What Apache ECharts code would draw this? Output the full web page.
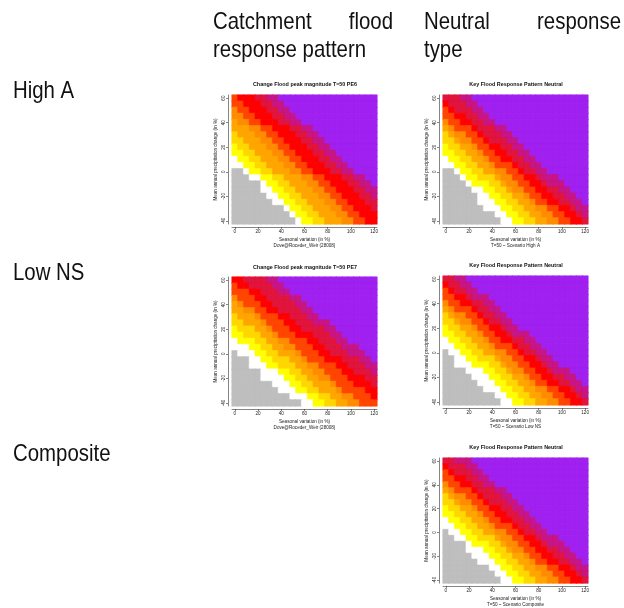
<!DOCTYPE html>
<html>
<head>
<meta charset="utf-8">
<script src="https://cdn.jsdelivr.net/npm/echarts@6/dist/echarts.min.js"></script>
<style>
  html, body { margin: 0; padding: 0; background: #fff; }
  #chart { width: 624px; height: 608px; }
</style>
</head>
<body>
<div id="chart"></div>
<script>
// Seasonal variation (x) and mean annual precipitation change (y), in %
const seasonalVariation = [0, 5, 10, 15, 20, 25, 30, 35, 40, 45, 50, 55, 60, 65, 70, 75, 80, 85, 90, 95, 100, 105, 110, 115, 120];
const precipitationChange = [-40, -35, -30, -25, -20, -15, -10, -5, 0, 5, 10, 15, 20, 25, 30, 35, 40, 45, 50, 55, 60];

// Response classes, lowest to highest (one hex digit per class in the grids below)
const classColors = ['#BEBEBE', '#FFFFFF', '#FFFF00', '#FFD700', '#FFA500', '#FF8C00',
                     '#FF4500', '#FF0000', '#E0143C', '#C71585', '#A020F0'];

// Class grids: one string per precipitation row, from +60 % (top) down to -40 % (bottom);
// one character per seasonal-variation column, 0 % to 120 %.
const pe6HighA = [
  '67778899AAAAAAAAAAAAAAAAA',
  '667778899AAAAAAAAAAAAAAAA',
  '5667778899AAAAAAAAAAAAAAA',
  '55667778899AAAAAAAAAAAAAA',
  '455667778899AAAAAAAAAAAAA',
  '44455667778899AAAAAAAAAAA',
  '344455667778899AAAAAAAAAA',
  '3344455667778899AAAAAAAAA',
  '23344455667778899AAAAAAAA',
  '223344455667778899AAAAAAA',
  '1223344455667778899AAAAAA',
  '11223344455667778899AAAAA',
  '001223344455667778899AAAA',
  '00011223344455667778899AA',
  '000001223344455667778899A',
  '0000011223344455667778899',
  '0000001122334445566777889',
  '0000000112233444556677788',
  '0000000001223344455667778',
  '0000000000122334445566777',
  '0000000000012233444556677'
];
const neutralHighA = [
  '88899AAAAAAAAAAAAAAAAAAAA',
  '788899AAAAAAAAAAAAAAAAAAA',
  '6788899AAAAAAAAAAAAAAAAAA',
  '66778899AAAAAAAAAAAAAAAAA',
  '566778899AAAAAAAAAAAAAAAA',
  '45666788899AAAAAAAAAAAAAA',
  '345566788899AAAAAAAAAAAAA',
  '3345566788899AAAAAAAAAAAA',
  '23344566778899AAAAAAAAAAA',
  '223344566778899AAAAAAAAAA',
  '1223344566778899AAAAAAAAA',
  '11223344566678899AAAAAAAA',
  '001223344556678899AAAAAAA',
  '00012233345566778999AAAAA',
  '000012223345566778999AAAA',
  '0000011223345566778899AAA',
  '00000011223344566778899AA',
  '000000111223344566778899A',
  '0000000111223344556677899',
  '0000000001122334455667789',
  '0000000000112233445566778'
];
const pe7LowNS = [
  '77888899AAAAAAAAAAAAAAAAA',
  '677888899AAAAAAAAAAAAAAAA',
  '6667788899AAAAAAAAAAAAAAA',
  '566677888899AAAAAAAAAAAAA',
  '4566677888899AAAAAAAAAAAA',
  '44556677888899AAAAAAAAAAA',
  '344456667788899AAAAAAAAAA',
  '33444566677888999AAAAAAAA',
  '233344566677888899AAAAAAA',
  '2233344566677788899AAAAAA',
  '12223344556667788899AAAAA',
  '1112233445566677888999AAA',
  '01112233444566677888999AA',
  '000112233344566677788899A',
  '0001112233344556667788899',
  '0000011122334455666778889',
  '0000011112233445566677788',
  '0000000111223344456667778',
  '0000000011122334445666677',
  '0000000000111223344556667',
  '0000000000001122334455666'
];
const neutralLowNS = [
  '8899AAAAAAAAAAAAAAAAAAAAA',
  '78899AAAAAAAAAAAAAAAAAAAA',
  '678899AAAAAAAAAAAAAAAAAAA',
  '66778999AAAAAAAAAAAAAAAAA',
  '566778899AAAAAAAAAAAAAAAA',
  '4566678899AAAAAAAAAAAAAAA',
  '34556678899AAAAAAAAAAAAAA',
  '334556678899AAAAAAAAAAAAA',
  '2334456677899AAAAAAAAAAAA',
  '223344566778999AAAAAAAAAA',
  '1223344566778899AAAAAAAAA',
  '11223344566678899AAAAAAAA',
  '011223344556678899AAAAAAA',
  '0011223334556677899AAAAAA',
  '00111222334556677899AAAAA',
  '0000111223345566778999AAA',
  '00000111223344566778899AA',
  '000000111223344566778899A',
  '0000000111223344556677899',
  '0000000001122334455667789',
  '0000000000112233445566778'
];
const neutralComposite = [
  '88999AAAAAAAAAAAAAAAAAAAA',
  '788899AAAAAAAAAAAAAAAAAAA',
  '6788899AAAAAAAAAAAAAAAAAA',
  '66778899AAAAAAAAAAAAAAAAA',
  '566778899AAAAAAAAAAAAAAAA',
  '45666788899AAAAAAAAAAAAAA',
  '345566788899AAAAAAAAAAAAA',
  '3345566788899AAAAAAAAAAAA',
  '23344566778899AAAAAAAAAAA',
  '223344566778899AAAAAAAAAA',
  '1223344566778899AAAAAAAAA',
  '11223344566678899AAAAAAAA',
  '011223344556678899AAAAAAA',
  '00112233345566778999AAAAA',
  '000012223345566778999AAAA',
  '0000111223345566778899AAA',
  '00000111223344566778899AA',
  '000000111223344566778899A',
  '0000000011223344556677899',
  '0000000001122334455667789',
  '0000000000112233445566778'
];

const panelTitles = ['Change Flood peak magnitude T=50 PE6', 'Key Flood Response Pattern Neutral',
                     'Change Flood peak magnitude T=50 PE7', 'Key Flood Response Pattern Neutral',
                     'Key Flood Response Pattern Neutral'];
const panelSubtitles = ['Dove@Roceder_Weir (28008)', 'T=50 ~ Scenario High A',
                        'Dove@Roceder_Weir (28008)', 'T=50 ~ Scenario Low NS',
                        'T=50 ~ Scenario Composite'];
const panelGrids = [pe6HighA, neutralHighA, pe7LowNS, neutralLowNS, neutralComposite];
const rowLabels = ['High A', 'Low NS', 'Composite'];
const xAxisTitle = 'Seasonal variation (in %)';
const yAxisTitle = 'Mean annual precipitation change (in %)';

// Plot boxes for the five panels (left, top, width, height)
const boxes = [
  [232, 95, 145, 129],
  [443, 95, 145, 129],
  [232, 277, 145, 129],
  [443, 276, 145, 129],
  [443, 458, 145, 129]
];

// Each cell gets a thin border in its own colour so neighbouring cells close up without seams
function toCells(rows) {
  const cells = [];
  rows.forEach((row, r) => {
    if (row.length !== seasonalVariation.length) throw new Error('bad row ' + r + ': ' + row);
    for (let c = 0; c < row.length; c++) {
      const v = parseInt(row[c], 16);
      cells.push({
        value: [c, precipitationChange.length - 1 - r, v],
        itemStyle: { borderColor: classColors[v], borderWidth: 0.5 }
      });
    }
  });
  return cells;
}

const smallFont = '"Liberation Sans", Arial, sans-serif';

const grid = [], xAxis = [], yAxis = [], series = [];
boxes.forEach((b, i) => {
  grid.push({ left: b[0], top: b[1], width: b[2], height: b[3] });
  xAxis.push({
    type: 'category', gridIndex: i, data: seasonalVariation, position: 'bottom', offset: 3,
    axisLine: { show: true, lineStyle: { color: '#333', width: 0.6 } },
    axisTick: { show: true, interval: 3, alignWithLabel: true, length: 2, lineStyle: { color: '#333', width: 0.6 } },
    axisLabel: { interval: 3, fontSize: 4.6, margin: 2.5, color: '#222', fontFamily: smallFont },
    splitLine: { show: false },
    name: xAxisTitle + '\n' + panelSubtitles[i], nameLocation: 'middle', nameGap: 10.5,
    nameTextStyle: { fontSize: 4.6, lineHeight: 5.2, color: '#222', fontFamily: smallFont }
  });
  yAxis.push({
    type: 'category', gridIndex: i, data: precipitationChange, position: 'left', offset: 4,
    axisLine: { show: true, lineStyle: { color: '#333', width: 0.6 } },
    axisTick: { show: true, interval: 3, alignWithLabel: true, length: 2, lineStyle: { color: '#333', width: 0.6 } },
    axisLabel: { interval: 3, rotate: 90, fontSize: 4.6, margin: 2, color: '#222', fontFamily: smallFont },
    splitLine: { show: false },
    name: yAxisTitle, nameLocation: 'middle', nameGap: 10, nameRotate: 90,
    nameTextStyle: { fontSize: 4.6, color: '#222', fontFamily: smallFont }
  });
  series.push({
    type: 'heatmap', xAxisIndex: i, yAxisIndex: i, data: toCells(panelGrids[i]),
    emphasis: { disabled: true }, progressive: 0, animation: false
  });
});

const titleCenters = [[305, 85], [516, 85], [305, 268], [516, 266], [516, 448]];
const graphic = [];
titleCenters.forEach((p, i) => {
  graphic.push({ type: 'text', x: p[0], y: p[1], silent: true,
    style: { text: panelTitles[i], font: 'bold 5.4px ' + smallFont, fill: '#111', align: 'center', verticalAlign: 'middle' } });
});

// Large labels in a condensed Helvetica look: regular sans squeezed horizontally
function headerText(text, x, y, align) {
  graphic.push({ type: 'text', x: x, y: y, scaleX: 0.85, silent: true,
    style: { text: text, font: '24px ' + smallFont, fill: '#111', align: align, verticalAlign: 'middle' } });
}
headerText('Catchment', 213, 22, 'left');
headerText('flood', 393, 22, 'right');
headerText('response pattern', 213, 50, 'left');
headerText('Neutral', 424, 22, 'left');
headerText('response', 621, 22, 'right');
headerText('type', 424, 50, 'left');
headerText(rowLabels[0], 13, 91, 'left');
headerText(rowLabels[1], 13, 273, 'left');
headerText(rowLabels[2], 13, 454, 'left');

const chart = echarts.init(document.getElementById('chart'), null, { renderer: 'canvas' });
chart.setOption({
  animation: false,
  backgroundColor: '#fff',
  grid: grid,
  xAxis: xAxis,
  yAxis: yAxis,
  visualMap: {
    type: 'piecewise', show: false, dimension: 2, seriesIndex: [0, 1, 2, 3, 4],
    pieces: classColors.map((c, i) => ({ value: i, color: c }))
  },
  series: series,
  graphic: graphic
});
</script>
</body>
</html>
